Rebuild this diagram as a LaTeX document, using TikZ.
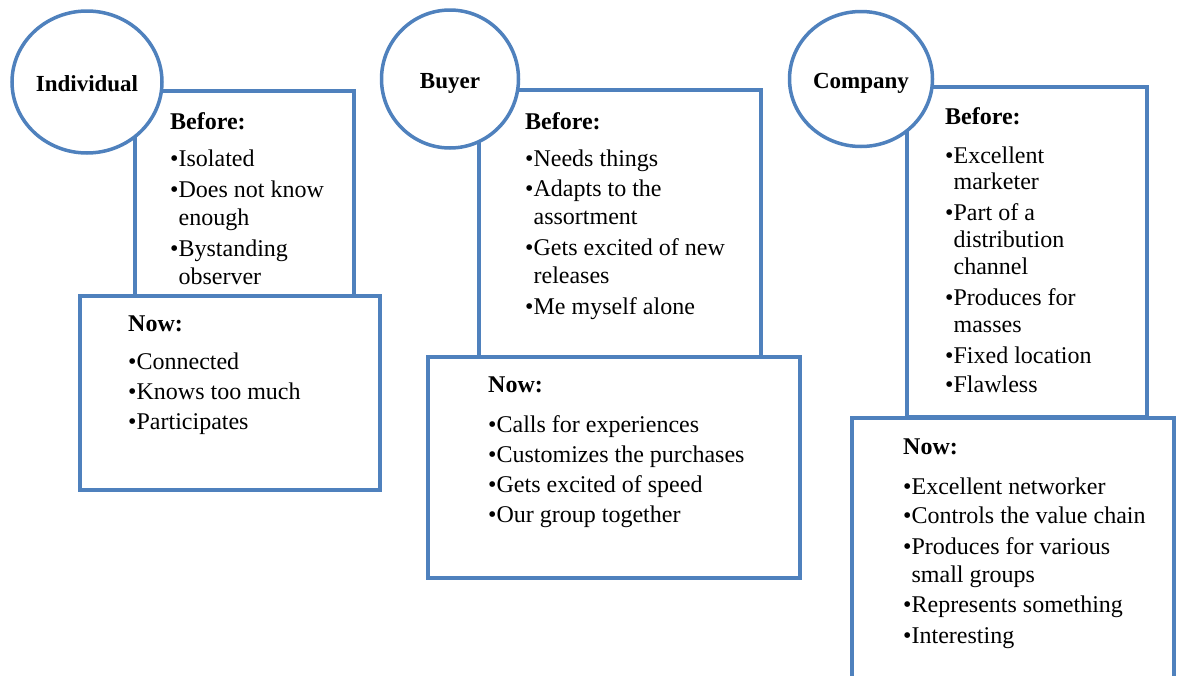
\documentclass[tikz,border=0pt]{standalone}
\usepackage{fontspec}
\setmainfont{Liberation Serif}
\usetikzlibrary{shapes.geometric}
\definecolor{frameblue}{RGB}{79,129,189}
\newcommand{\bl}{\textbullet}
\newcommand{\hb}{\hphantom{\textbullet}}

\begin{document}
\begin{tikzpicture}[x=1pt,y=-1pt,
  box/.style={draw=frameblue, line width=3.5pt, fill=white, rectangle, inner sep=0pt},
  who/.style={draw=frameblue, line width=3.5pt, fill=white, ellipse, inner sep=0pt,
    text height=19pt, text depth=0pt, font=\fontsize{23}{26}\selectfont\bfseries},
  list/.style={anchor=north west, inner sep=0pt, align=left,
    font=\fontsize{24}{28}\selectfont}]
  \useasboundingbox (0,0) rectangle (1181,675);
  \clip (0,0) rectangle (1181,675);

  % before boxes
  \node[box, minimum width=219pt, minimum height=205pt] (indbefore) at (244.5,193.5) {};
  \node[box, minimum width=282pt, minimum height=267pt] (buybefore) at (620,223.5) {};
  \node[box, minimum width=240pt, minimum height=330pt] (combefore) at (1027,252) {};

  % now boxes
  \node[box, minimum width=300pt, minimum height=194pt] (indnow) at (230,393) {};
  \node[box, minimum width=372pt, minimum height=221pt] (buynow) at (614,467.5) {};
  \node[box, minimum width=322pt, minimum height=302pt] (comnow) at (1013,569) {};

  % circles
  \node[who, minimum width=150pt, minimum height=142pt] (ind) at (87,82) {Individual};
  \node[who, minimum width=137pt, minimum height=138pt] (buy) at (450,79) {Buyer};
  \node[who, minimum width=143pt, minimum height=135pt] (com) at (861,79) {Company};

  % texts
  \node[list] (indbeforetext) at (170,112) {\textbf{Before:}\\[9pt]
    \bl Isolated\\[3pt]
    \bl Does not know\\
    \hb enough\\[3pt]
    \bl Bystanding\\
    \hb observer};
  \node[list] (indnowtext) at (128,316) {\textbf{Now:}\\[10pt]
    \bl Connected\\[2pt]
    \bl Knows too much\\[2pt]
    \bl Participates};

  \node[list] (buybeforetext) at (525,112) {\textbf{Before:}\\[9pt]
    \bl Needs things\\[2pt]
    \bl Adapts to the\\
    \hb assortment\\[3pt]
    \bl Gets excited of new\\
    \hb releases\\[3pt]
    \bl Me myself alone};
  \node[list] (buynowtext) at (488,377) {\textbf{Now:}\\[12pt]
    \bl Calls for experiences\\[2pt]
    \bl Customizes the purchases\\[2pt]
    \bl Gets excited of speed\\[2pt]
    \bl Our group together};

  \node[list] (combeforetext) at (945,107) {\textbf{Before:}\\[11pt]
    \bl Excellent\\[-2pt]
    \hb marketer\\[3pt]
    \bl Part of a\\[-1pt]
    \hb distribution\\[-1pt]
    \hb channel\\[3pt]
    \bl Produces for\\[-1pt]
    \hb masses\\[3pt]
    \bl Fixed location\\[1pt]
    \bl Flawless};
  \node[list] (comnowtext) at (903,439) {\textbf{Now:}\\[12pt]
    \bl Excellent networker\\[1pt]
    \bl Controls the value chain\\[3pt]
    \bl Produces for various\\
    \hb small groups\\[2pt]
    \bl Represents something\\[3pt]
    \bl Interesting};
\end{tikzpicture}
\end{document}
